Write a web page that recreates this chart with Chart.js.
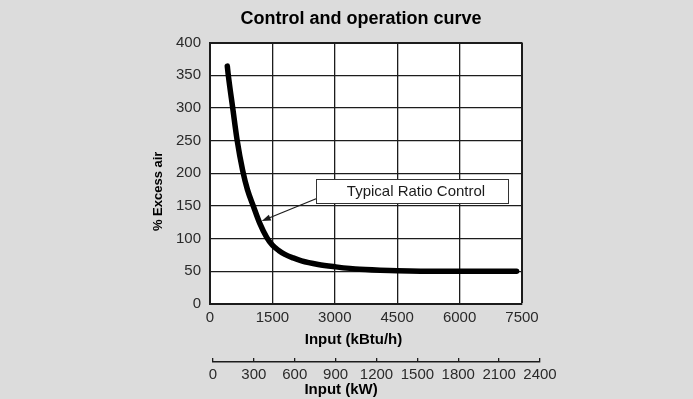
<!DOCTYPE html>
<html>
<head>
<meta charset="utf-8">
<title>Control and operation curve</title>
<script src="https://cdn.jsdelivr.net/npm/chart.js@4/dist/chart.umd.min.js"></script>
<style>
  html, body { margin: 0; padding: 0; background: #dcdcdc; overflow: hidden; }
  #wrap { position: relative; width: 693px; height: 399px; }
  #main { position: absolute; left: 0; top: 0; }
  #kw { position: absolute; left: 0; top: 340px; }
</style>
</head>
<body>
<div id="wrap">
  <canvas id="main" width="693" height="399"></canvas>
  <canvas id="kw" width="693" height="59"></canvas>
</div>
<script>
// Excess air versus burner input (typical ratio control)
const kbtuInput = [416, 440, 546, 649, 786, 900, 1041, 1200, 1363, 1500, 1650, 1800, 2000, 2200, 2600, 3000, 3600, 4500, 5500, 7370];
const excessAir = [364, 350, 300, 252, 204, 175, 150, 123, 102, 90, 82, 76, 70.5, 66, 60.5, 57, 53, 51, 50, 50];

// Tick labels
const kbtuTicks = [0, 1500, 3000, 4500, 6000, 7500];
const airTicks = [0, 50, 100, 150, 200, 250, 300, 350, 400];
const kwTicks = [0, 300, 600, 900, 1200, 1500, 1800, 2100, 2400];

// Text
const chartTitle = 'Control and operation curve';
const yTitle = '% Excess air';
const xTitle = 'Input (kBtu/h)';
const kwTitle = 'Input (kW)';
const calloutText = 'Typical Ratio Control';

const FONT = "'Liberation Sans', Arial, Helvetica, sans-serif";
const INK = '#1c1c1c';
Chart.defaults.font.family = FONT;
Chart.defaults.color = INK;

// trailing spaces nudge a centred title towards its start
const nudge = (s, n) => s + ' '.repeat(n);
const useTicks = list => scale => { scale.ticks = list.map(v => ({ value: v })); };
const plain = v => String(v);

// white plotting area
const plotBackground = {
  id: 'plotBackground',
  beforeDraw(chart, args, opts) {
    const { ctx, chartArea: a } = chart;
    ctx.save();
    ctx.fillStyle = opts.color;
    ctx.fillRect(a.left, a.top, a.width, a.height);
    ctx.restore();
  }
};

// labelled box with an arrow pointing at the curve
const callout = {
  id: 'callout',
  afterDatasetsDraw(chart, args, o) {
    const { ctx, scales: { x, y } } = chart;
    const L = Math.round(x.getPixelForValue(o.box.xMin));
    const R = Math.round(x.getPixelForValue(o.box.xMax));
    const T = Math.round(y.getPixelForValue(o.box.yMax));
    const B = Math.round(y.getPixelForValue(o.box.yMin));
    ctx.save();
    ctx.fillStyle = '#ffffff';
    ctx.fillRect(L, T, R - L, B - T);
    ctx.strokeStyle = o.borderColor;
    ctx.lineWidth = 1;
    ctx.strokeRect(L + 0.5, T + 0.5, R - L, B - T);
    ctx.fillStyle = INK;
    ctx.font = `15px ${FONT}`;
    ctx.textAlign = 'center';
    ctx.textBaseline = 'middle';
    ctx.fillText(o.text, (L + R) / 2 + 4, (T + B) / 2 + 1);

    const x0 = x.getPixelForValue(o.box.xMin), y0 = y.getPixelForValue(o.arrowFrom);
    const x1 = x.getPixelForValue(o.arrowTo[0]), y1 = y.getPixelForValue(o.arrowTo[1]);
    const ang = Math.atan2(y1 - y0, x1 - x0);
    const head = 9, half = 3.2;
    ctx.strokeStyle = INK;
    ctx.lineWidth = 1.2;
    ctx.beginPath();
    ctx.moveTo(x0, y0);
    ctx.lineTo(x1 - Math.cos(ang) * head * 0.8, y1 - Math.sin(ang) * head * 0.8);
    ctx.stroke();
    ctx.fillStyle = INK;
    ctx.beginPath();
    ctx.moveTo(x1, y1);
    ctx.lineTo(x1 - Math.cos(ang) * head - Math.sin(ang) * half, y1 - Math.sin(ang) * head + Math.cos(ang) * half);
    ctx.lineTo(x1 - Math.cos(ang) * head + Math.sin(ang) * half, y1 - Math.sin(ang) * head - Math.cos(ang) * half);
    ctx.closePath();
    ctx.fill();
    ctx.restore();
  }
};

const edgeWidth = last => c => (c.index === last ? 2 : 1.3);

new Chart(document.getElementById('main'), {
  type: 'line',
  data: {
    datasets: [{
      data: kbtuInput.map((v, i) => ({ x: v, y: excessAir[i] })),
      borderColor: '#000000',
      borderWidth: 5.5,
      borderCapStyle: 'round',
      borderJoinStyle: 'round',
      cubicInterpolationMode: 'monotone',
      pointRadius: 0,
      fill: false
    }]
  },
  options: {
    responsive: false,
    animation: false,
    events: [],
    layout: { padding: { left: 0, right: 171, top: 0, bottom: 45 } },
    plugins: {
      legend: { display: false },
      tooltip: { enabled: false },
      title: {
        display: true,
        text: nudge(chartTitle, 2),
        fullSize: false,
        color: '#000',
        font: { size: 18, weight: 'bold' },
        padding: { top: 8, bottom: 13 }
      },
      plotBackground: { color: '#ffffff' },
      callout: {
        text: calloutText,
        borderColor: '#333333',
        box: { xMin: 2550, xMax: 7165, yMin: 155, yMax: 192 },
        arrowFrom: 161,
        arrowTo: [1243, 127]
      }
    },
    scales: {
      x: {
        type: 'linear',
        min: 0,
        max: 7500,
        afterBuildTicks: useTicks(kbtuTicks),
        afterFit: s => { s.height = 50; },
        grid: { color: INK, lineWidth: edgeWidth(kbtuTicks.length - 1), drawTicks: false },
        border: { color: INK, width: 2 },
        ticks: { font: { size: 15 }, color: '#2a2a2a', padding: 5, maxRotation: 0, autoSkip: false, callback: plain },
        title: {
          display: true,
          text: nudge(xTitle, 6),
          color: '#000',
          font: { size: 15, weight: 'bold' },
          padding: { top: 0, bottom: 5 }
        }
      },
      y: {
        min: 0,
        max: 400,
        afterBuildTicks: useTicks(airTicks),
        afterFit: s => { s.width = 210; },
        grid: { color: INK, lineWidth: edgeWidth(airTicks.length - 1), drawTicks: false },
        border: { color: INK, width: 2 },
        ticks: { font: { size: 15 }, color: '#2a2a2a', padding: 9, callback: plain },
        title: {
          display: true,
          text: nudge(yTitle, 10),
          color: '#000',
          font: { size: 13, weight: 'bold' },
          padding: { top: 151, bottom: 0 }
        }
      }
    }
  },
  plugins: [plotBackground, callout]
});

// secondary input axis in kW
new Chart(document.getElementById('kw'), {
  type: 'line',
  data: { datasets: [{ data: [] }] },
  options: {
    responsive: false,
    animation: false,
    events: [],
    layout: { padding: { left: 213, right: 153, top: 18, bottom: 0 } },
    plugins: { legend: { display: false }, tooltip: { enabled: false } },
    scales: {
      x: {
        type: 'linear',
        min: 0,
        max: 2400,
        afterBuildTicks: useTicks(kwTicks),
        afterFit: s => { s.height = 37; },
        grid: { color: INK, lineWidth: 1.3, drawTicks: false, drawOnChartArea: true },
        border: { color: INK, width: 1.5 },
        ticks: { font: { size: 15 }, color: '#2a2a2a', padding: 4, maxRotation: 0, autoSkip: false, callback: plain },
        title: {
          display: true,
          text: nudge(kwTitle, 17),
          color: '#000',
          font: { size: 15, weight: 'bold' },
          padding: { top: 0, bottom: 0 }
        }
      },
      y: { display: false, min: 0, max: 1 }
    }
  }
});
</script>
</body>
</html>
